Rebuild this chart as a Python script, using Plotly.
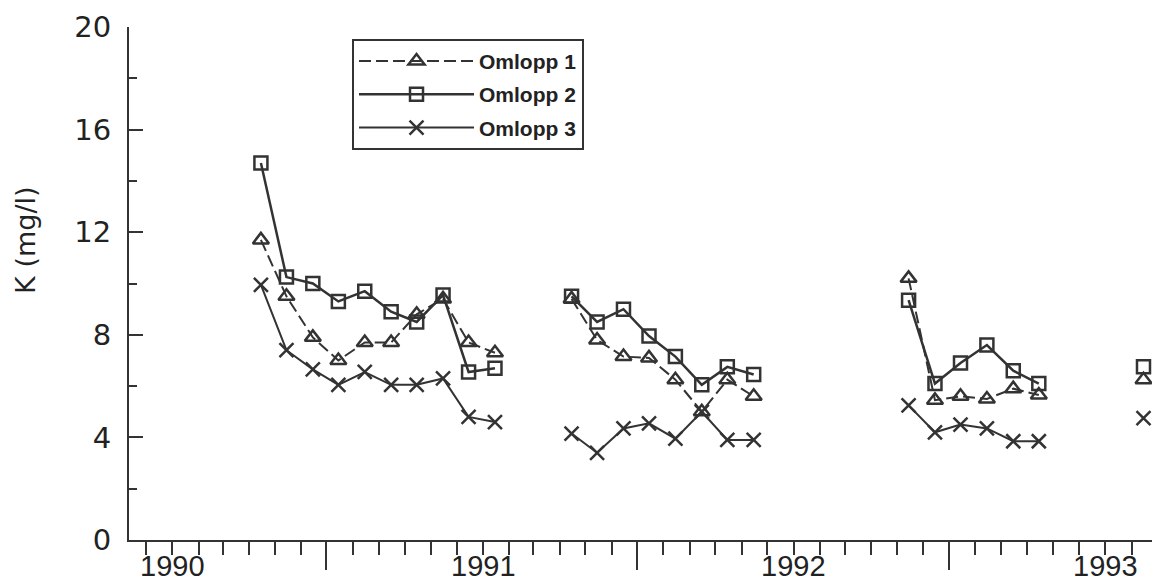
import plotly.graph_objects as go

# Monthly sampling dates (mid-month); entries with None values break the line
months = ["1990-04", "1990-05", "1990-06", "1990-07", "1990-08", "1990-09",
          "1990-10", "1990-11", "1990-12", "1991-01", "1991-02",
          "1991-04", "1991-05", "1991-06", "1991-07", "1991-08", "1991-09",
          "1991-10", "1991-11", "1991-12",
          "1992-05", "1992-06", "1992-07", "1992-08", "1992-09", "1992-10",
          "1992-11", "1993-02"]

omlopp1 = [11.7, 9.5, 7.9, 7.0, 7.7, 7.7, 8.8, 9.4, 7.7, 7.3, None,
           9.4, 7.8, 7.15, 7.1, 6.25, 5.0, 6.25, 5.6, None,
           10.2, 5.45, 5.6, 5.5, 5.9, 5.65, None, 6.25]
omlopp2 = [14.7, 10.25, 10.0, 9.3, 9.7, 8.9, 8.5, 9.55, 6.55, 6.7, None,
           9.5, 8.5, 9.0, 7.95, 7.15, 6.05, 6.75, 6.45, None,
           9.35, 6.1, 6.9, 7.6, 6.6, 6.1, None, 6.75]
omlopp3 = [9.95, 7.4, 6.65, 6.05, 6.55, 6.05, 6.05, 6.3, 4.8, 4.6, None,
           4.15, 3.4, 4.35, 4.55, 3.95, 5.0, 3.9, 3.9, None,
           5.25, 4.2, 4.5, 4.35, 3.85, 3.85, None, 4.75]

year_ticks = ["1990-01-01", "1991-01-01", "1992-01-01", "1993-01-01"]
year_labels = ["1990", "1991", "1992", "1993"]
midyear_ticks = ["1990-07-01", "1991-07-01", "1992-07-01"]
x_range = ["1989-11-11", "1993-02-25"]

dates = [m + "-15" for m in months]
ink = "#333333"
label_color = "#222222"

fig = go.Figure()
fig.add_trace(go.Scatter(
    x=dates, y=omlopp1, name="Omlopp 1", mode="lines+markers", legendgroup="g1",
    line=dict(color=ink, width=2, dash="12px,5px"),
    marker=dict(symbol="triangle-up-open", size=14, color=ink, line=dict(width=2.5, color=ink)),
))
fig.add_trace(go.Scatter(
    x=dates, y=omlopp2, name="Omlopp 2", mode="lines+markers", legendgroup="g2",
    line=dict(color=ink, width=2.5),
    marker=dict(symbol="square-open", size=13, color=ink, line=dict(width=2.5, color=ink)),
))
fig.add_trace(go.Scatter(
    x=dates, y=omlopp3, name="Omlopp 3", mode="lines+markers", legendgroup="g3",
    line=dict(color=ink, width=2),
    marker=dict(symbol="x-thin-open", size=14, color=ink, line=dict(width=2.5, color=ink)),
))

# year labels placed on the date axis at 1 January of each year
year_annotations = [
    dict(text=lab, x=val, xref="x", y=0, yref="paper", yanchor="top", xanchor="center",
         yshift=-9, borderpad=0, showarrow=False,
         font=dict(family="Liberation Sans", size=29, color=label_color))
    for val, lab in zip(year_ticks, year_labels)
]

fig.update_layout(
    width=1152, height=584,
    margin=dict(l=129, r=0, t=27, b=44, autoexpand=False),
    paper_bgcolor="white", plot_bgcolor="white",
    showlegend=True,
    legend=dict(
        x=0.218, y=0.977, xanchor="left", yanchor="top",
        bordercolor=ink, borderwidth=2, bgcolor="white",
        font=dict(family="Liberation Sans", size=21, color=label_color, weight="bold"),
        itemwidth=115, tracegroupgap=3, traceorder="grouped",
    ),
    xaxis=dict(
        type="date", range=x_range,
        showline=True, linecolor=ink, linewidth=2,
        showgrid=False, zeroline=False,
        tickmode="array", tickvals=midyear_ticks,
        ticks="outside", ticklen=28, tickwidth=2, tickcolor=ink,
        showticklabels=False,
        minor=dict(dtick="M1", tick0="1990-01-01", ticks="outside", ticklen=13,
                   tickwidth=2, tickcolor=ink, showgrid=False),
    ),
    yaxis=dict(
        range=[0, 20], showline=True, linecolor=ink, linewidth=2,
        showgrid=False, zeroline=False,
        tickmode="linear", tick0=0, dtick=4,
        ticks="inside", ticklen=14, tickwidth=2, tickcolor=ink,
        ticklabelstandoff=10,
        tickfont=dict(family="DejaVu Sans", size=29, color=label_color),
        minor=dict(dtick=2, tick0=0, ticks="inside", ticklen=8, tickwidth=2,
                   tickcolor=ink, showgrid=False),
    ),
    annotations=year_annotations + [dict(
        text="K (mg/l)", xref="paper", yref="paper",
        x=-0.1007, y=0.585, xanchor="center", yanchor="middle",
        textangle=-90, showarrow=False,
        font=dict(family="DejaVu Sans", size=27, color=label_color),
    )],
)

fig.write_html("out.html")
